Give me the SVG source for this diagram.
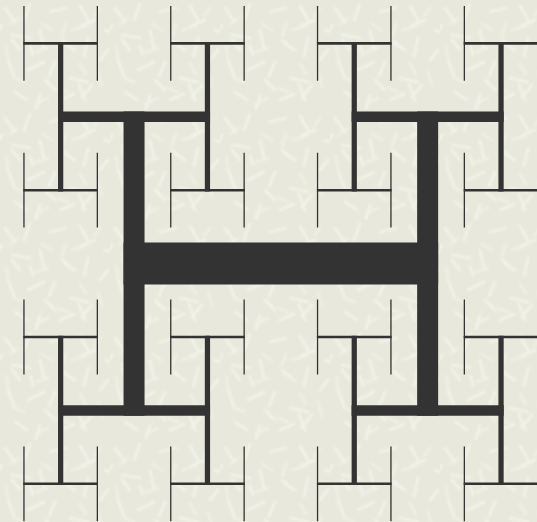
<svg xmlns="http://www.w3.org/2000/svg" width="537" height="522" viewBox="0 0 537 522">
<defs>
<filter id="soft" x="-10%" y="-10%" width="120%" height="120%"><feGaussianBlur stdDeviation="0.9"/></filter>
<pattern id="tex" x="0" y="0" width="110" height="110" patternUnits="userSpaceOnUse">
<rect width="110" height="110" fill="#e8e9dc"/>
<g filter="url(#soft)" stroke="#f6f7ef" stroke-width="2.6" stroke-linecap="round" opacity="0.7" fill="none">
<path d="M5 8l10 14M30 4l-6 16M50 12l16-4M80 6l8 14M95 20l-14 6M12 35l18 3M40 30l4 18M62 40l12 10M88 38l-4 18M100 60l8-10M8 60l6 16M28 70l16-8M55 62l-6 14M70 78l18 4M92 85l-10 12M15 92l12 8M40 95l-4 14M60 100l14-6M75 50l-10-6M20 50l-8-10M45 80l10 10M85 100l-6-16M2 25l-6 10M105 30l10 4M33 55l-3-9"/>
<path d="M18 18l-8 6M66 24l-4 12M100 8l-6 8M48 48l-12 4M80 64l6 10M24 82l-10-4M58 88l10 4M98 72l4 14M36 104l12-6M72 30l14-4M6 46l2 12M52 30l-10-6" opacity="0.7"/>
</g>
</pattern>
<style>
.h1{stroke:#333;stroke-width:42;fill:none}
.v1{stroke:#333;stroke-width:21;fill:none}
.h2{stroke:#333;stroke-width:10.5;fill:none}
.v2{stroke:#333;stroke-width:5.25;fill:none}
.h3{stroke:#333;stroke-width:2.6;fill:none}
.v3{stroke:#333;stroke-width:1.3;fill:none}
</style>
</defs>
<rect width="537" height="522" fill="url(#tex)"/>
<g id="H0">
<path class="h1" d="M123.55 263.6H438.15"/>
<path class="v1" d="M134.05 111.55V415.65M427.65 111.55V415.65"/>
</g>
<g id="H-level2">
<g id="H2-TL"><path class="h2" d="M58.03 116.8H210.08"/><path class="v2" d="M60.65 42.1V191.5M207.45 42.1V191.5"/></g>
<g id="H2-TR"><path class="h2" d="M351.63 116.8H503.68"/><path class="v2" d="M354.25 42.1V191.5M501.05 42.1V191.5"/></g>
<g id="H2-BL"><path class="h2" d="M58.03 410.4H210.08"/><path class="v2" d="M60.65 335.7V485.1M207.45 335.7V485.1"/></g>
<g id="H2-BR"><path class="h2" d="M351.63 410.4H503.68"/><path class="v2" d="M354.25 335.7V485.1M501.05 335.7V485.1"/></g>
</g>
<g id="H-level3">
<g id="H3-1"><path class="h3" d="M23.3 43.4H98"/><path class="v3" d="M23.95 6V80.8M97.35 6V80.8"/></g>
<g id="H3-2"><path class="h3" d="M170.1 43.4H244.8"/><path class="v3" d="M170.75 6V80.8M244.15 6V80.8"/></g>
<g id="H3-3"><path class="h3" d="M316.9 43.4H391.6"/><path class="v3" d="M317.55 6V80.8M390.95 6V80.8"/></g>
<g id="H3-4"><path class="h3" d="M463.7 43.4H538.4"/><path class="v3" d="M464.35 6V80.8M537.75 6V80.8"/></g>
<g id="H3-5"><path class="h3" d="M23.3 190.2H98"/><path class="v3" d="M23.95 152.8V227.6M97.35 152.8V227.6"/></g>
<g id="H3-6"><path class="h3" d="M170.1 190.2H244.8"/><path class="v3" d="M170.75 152.8V227.6M244.15 152.8V227.6"/></g>
<g id="H3-7"><path class="h3" d="M316.9 190.2H391.6"/><path class="v3" d="M317.55 152.8V227.6M390.95 152.8V227.6"/></g>
<g id="H3-8"><path class="h3" d="M463.7 190.2H538.4"/><path class="v3" d="M464.35 152.8V227.6M537.75 152.8V227.6"/></g>
<g id="H3-9"><path class="h3" d="M23.3 337H98"/><path class="v3" d="M23.95 299.6V374.4M97.35 299.6V374.4"/></g>
<g id="H3-10"><path class="h3" d="M170.1 337H244.8"/><path class="v3" d="M170.75 299.6V374.4M244.15 299.6V374.4"/></g>
<g id="H3-11"><path class="h3" d="M316.9 337H391.6"/><path class="v3" d="M317.55 299.6V374.4M390.95 299.6V374.4"/></g>
<g id="H3-12"><path class="h3" d="M463.7 337H538.4"/><path class="v3" d="M464.35 299.6V374.4M537.75 299.6V374.4"/></g>
<g id="H3-13"><path class="h3" d="M23.3 483.8H98"/><path class="v3" d="M23.95 446.4V521.2M97.35 446.4V521.2"/></g>
<g id="H3-14"><path class="h3" d="M170.1 483.8H244.8"/><path class="v3" d="M170.75 446.4V521.2M244.15 446.4V521.2"/></g>
<g id="H3-15"><path class="h3" d="M316.9 483.8H391.6"/><path class="v3" d="M317.55 446.4V521.2M390.95 446.4V521.2"/></g>
<g id="H3-16"><path class="h3" d="M463.7 483.8H538.4"/><path class="v3" d="M464.35 446.4V521.2M537.75 446.4V521.2"/></g>
</g>
</svg>
